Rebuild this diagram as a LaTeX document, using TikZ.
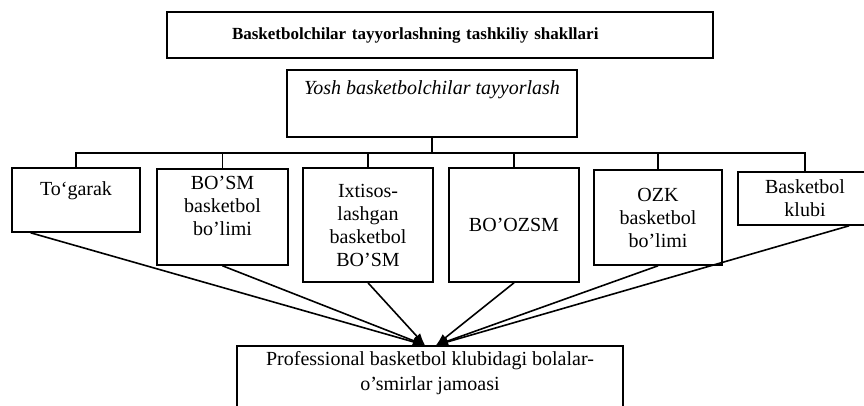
\documentclass[tikz,border=0pt]{standalone}
\usepackage{fontspec}
\setmainfont{Liberation Serif}
\usetikzlibrary{calc, arrows.meta}

\begin{document}
\begin{tikzpicture}[x=0.5pt, y=-0.5pt,
    box/.style={draw, line width=0.8pt, align=center, inner sep=0pt,
        font=\fontsize{10}{11.5}\selectfont},
    link/.style={line width=0.8pt},
    arr/.style={line width=0.8pt, -{Latex[length=6pt, width=4.5pt]}}]
    \useasboundingbox (0,0) rectangle (864,406);
    \clip (0,0) rectangle (864,406);

    \coordinate (bus) at (432,153);

    \node[box, minimum width=273pt, minimum height=23pt, text width=208pt,
        inner xsep=32.5pt, align=left,
        font=\fontsize{8.5}{10}\selectfont\bfseries] (title) at (440,35)
        {Basketbolchilar tayyorlashning tashkiliy shakllari};
    \node[box, minimum width=145pt, minimum height=33.5pt,
        font=\fontsize{10}{11.5}\selectfont\itshape] (yosh) at (432,103.5)
        {Yosh basketbolchilar tayyorlash\\[4pt]~};

    \node[box, minimum width=64pt, minimum height=32pt] (b1) at (76,200)
        {To`garak\\~};
    \node[box, minimum width=65.5pt, minimum height=48pt] (b2) at (222.5,217)
        {BO'SM\\basketbol\\bo'limi\\~};
    \node[box, minimum width=65pt, minimum height=57pt] (b3) at (368,225)
        {Ixtisos-\\lashgan\\basketbol\\BO'SM};
    \node[box, minimum width=65pt, minimum height=57pt] (b4) at (514,225)
        {BO'OZSM};
    \node[box, minimum width=64pt, minimum height=47.5pt] (b5) at (658,217.5)
        {OZK\\basketbol\\bo'limi};
    \node[box, minimum width=67pt, minimum height=26.5pt] (b6) at (805,198.5)
        {Basketbol\\klubi};

    \node[box, minimum width=193pt, minimum height=37pt,
        font=\fontsize{10}{12.5}\selectfont] (prof) at (430,383)
        {Professional basketbol klubidagi bolalar-\\o'smirlar jamoasi\\~};

    \draw[link] (yosh.south) -- (yosh.south |- bus);
    \draw[link] (b1.north) |- (b6.north |- bus) -- (b6.north);
    \foreach \b in {b2,b3,b4,b5}
        \draw[link] (\b.north) -- (\b.north |- bus);

    \coordinate (tipL) at ($(prof.north)+(-5,0)$);
    \coordinate (tipR) at ($(prof.north)+(6,0)$);

    \draw[arr] ($(b1.south west)!0.3!(b1.south)$) -- (tipL);
    \foreach \b in {b2,b3}
        \draw[arr] (\b.south) -- (tipL);
    \foreach \b in {b4,b5}
        \draw[arr] (\b.south) -- (tipR);
    \draw[arr] ($(b6.south)!0.65!(b6.south east)$) -- (tipR);
\end{tikzpicture}
\end{document}
